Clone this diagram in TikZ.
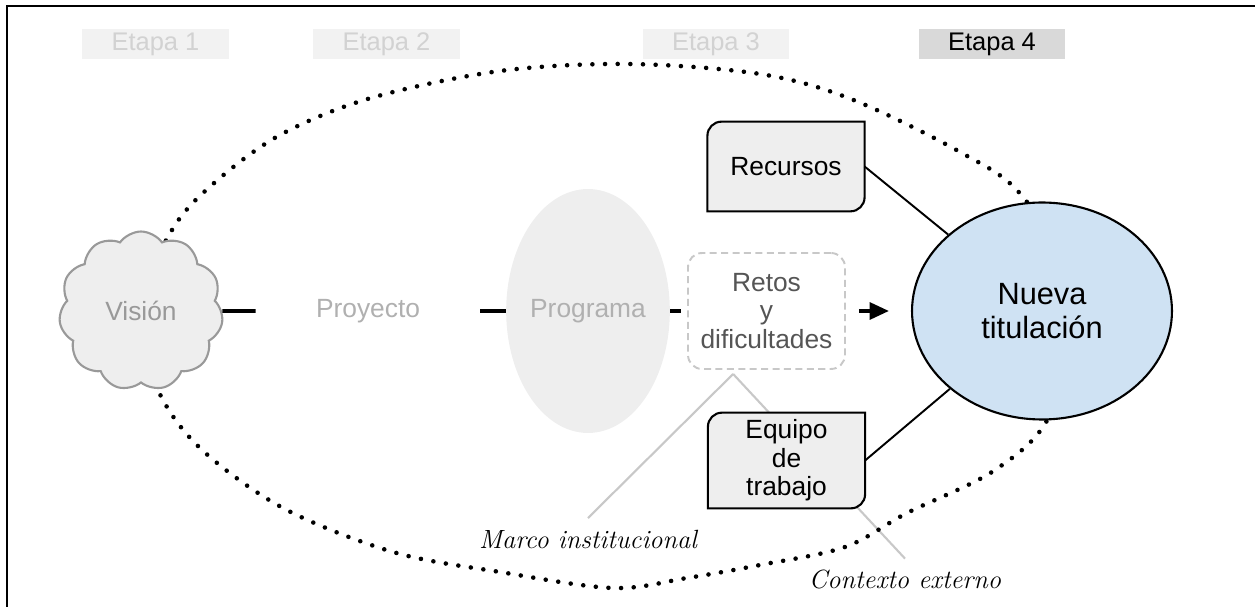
\documentclass[tikz,border=0pt]{standalone}
\usepackage{fontspec}
\setsansfont{Liberation Sans}
\renewcommand{\familydefault}{\sfdefault}
\usetikzlibrary{shapes.geometric}
\usetikzlibrary{shapes.symbols}
\usetikzlibrary{arrows.meta}
\usetikzlibrary{backgrounds}

\definecolor{etapafondo}{HTML}{F2F2F2}
\definecolor{etapatexto}{HTML}{D2D2D2}
\definecolor{etapaactiva}{HTML}{D9D9D9}
\definecolor{grisclaro}{HTML}{EEEEEE}
\definecolor{grismedio}{HTML}{999999}
\definecolor{grispalido}{HTML}{B0B0B0}
\definecolor{grisguia}{HTML}{C8C8C8}
\definecolor{grisoscuro}{HTML}{555555}
\definecolor{azultitulo}{HTML}{CFE2F3}

\tikzset{
  etapa/.style={fill=etapafondo, text=etapatexto, minimum width=2.94cm, minimum height=0.6cm,
    inner sep=0pt, font=\fontsize{14.5}{16}\selectfont},
  bloque/.style={align=center, inner sep=0pt, font=\fontsize{15}{16}\selectfont},
  pestana/.style={bloque, minimum width=3.13cm},
  union/.style={line width=2.2pt},
  guia/.style={draw=grisguia, line width=1.2pt},
  nota/.style={inner sep=0pt, font=\rmfamily\itshape\fontsize{15}{16}\selectfont},
}

\begin{document}
\begin{tikzpicture}[x=0.02cm, y=-0.02cm]
	\useasboundingbox (0,0) rectangle (1255,607);
	% frame
	\draw[line width=1.2pt] (7,610) -- (7,6) -- (1260,6);

	% stages along the top
	\node[etapa] (etapa1) at (155.5,44) {Etapa 1};
	\node[etapa] (etapa2) at (386.5,44) {Etapa 2};
	\node[etapa] (etapa3) at (716,44) {Etapa 3};
	\node[etapa, fill=etapaactiva, text=black] (etapa4) at (992,44) {Etapa 4};

	% dotted outline round the whole process
	\draw[line width=2.6pt, line cap=round, dash pattern=on 0pt off 7.2pt]
		plot[smooth cycle, tension=0.55] coordinates {
		(138,310) (172,230) (213,184) (280,135) (371,98) (500,71) (629,64) (760,74)
		(851,99) (960,152) (1023,197) (1080,300) (1050,415) (995,470) (907,513)
		(845,547) (760,565) (687,578) (613,588) (500,572) (393,552) (283,508)
		(200,448) (157,388)};

	% main row
	\node[cloud, cloud puffs=11, cloud puff arc=110, aspect=1, draw=grismedio, fill=grisclaro,
		line width=1.2pt, minimum width=3.28cm, minimum height=3.18cm, inner sep=0pt,
		text=grismedio, font=\fontsize{15}{16}\selectfont] (vision) at (141,311) {Visión};
	\node[bloque, text=grispalido, minimum width=4.48cm] (proyecto) at (368,311) {Proyecto};
	\node[ellipse, fill=grisclaro, minimum width=2.72cm, minimum height=4.88cm, inner sep=0pt,
		text=grispalido, font=\fontsize{15}{16}\selectfont] (programa) at (588,311) {Programa};
	\node[bloque, draw=grisguia, dashed, dash pattern=on 4pt off 2.5pt, rounded corners=8pt,
		line width=1.1pt, minimum width=3.14cm, minimum height=2.32cm, text=grisoscuro,
		font=\fontsize{15}{16.2}\selectfont] (retos) at (766.5,311) {Retos\\y\\dificultades};
	\node[ellipse, draw, fill=azultitulo, line width=1.2pt, minimum width=5.2cm,
		minimum height=4.34cm, inner sep=0pt, align=center,
		font=\fontsize{17.5}{19.3}\selectfont] (titulo) at (1042,311) {Nueva\\titulación};

	% side boxes
	\node[pestana, minimum height=1.78cm] (recursos) at (786,166.5) {Recursos};
	\node[pestana, minimum height=1.9cm, font=\fontsize{15}{16.2}\selectfont] (equipo) at (786.5,460.5) {Equipo\\de\\trabajo};

	% labels underneath
	\node[nota, anchor=north] (marco) at (588,530) {Marco institucional};
	\node[nota, anchor=north] (contexto) at (905,570) {Contexto externo};

	\begin{pgfonlayer}{background}
		\coordinate (vertice) at ([xshift=-19pt, yshift=-2.3pt]retos.south);
		\draw[guia] (vertice) -- ([yshift=6.8pt]marco.north);
		\draw[guia] (vertice) -- ([yshift=6.5pt]contexto.north);
		\foreach \n in {recursos, equipo}
			\filldraw[fill=grisclaro, line width=1.2pt] (\n.south west)
				-- ([yshift=-8pt]\n.north west) arc[start angle=180, end angle=90, radius=8pt]
				-- (\n.north east)
				-- ([yshift=8pt]\n.south east) arc[start angle=0, end angle=-90, radius=8pt]
				-- cycle;
	\end{pgfonlayer}

	% connectors
	\draw[union] (vision.east) -- (proyecto.west);
	\draw[union] (proyecto.east) -- (programa.west);
	\draw[union] (programa.east) -- ([xshift=-3.5pt]retos.west);
	\draw[union, -{Triangle[length=11pt, width=9.5pt]}] ([xshift=7.4pt]retos.east) -- ([xshift=-12.5pt]titulo.west);
	\draw[line width=1.1pt] (recursos.east) -- (titulo);
	\draw[line width=1.1pt] (equipo.east) -- (titulo);
\end{tikzpicture}
\end{document}
